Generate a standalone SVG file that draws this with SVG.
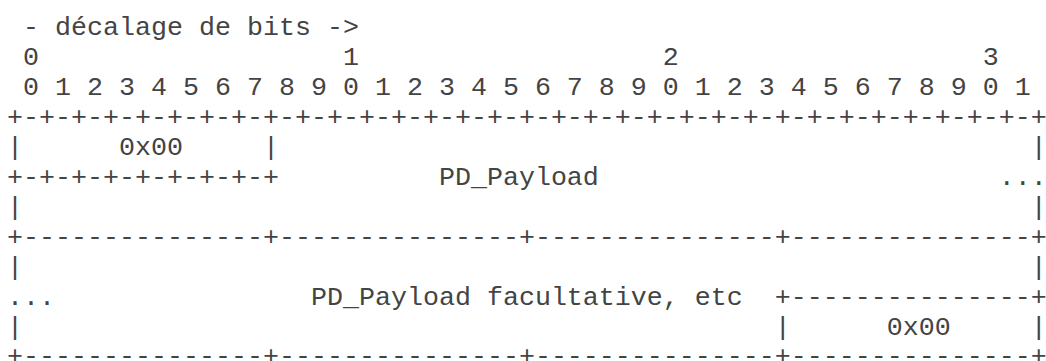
<svg xmlns="http://www.w3.org/2000/svg" width="1046" height="361" viewBox="0 0 1046 361">
  <style>
    /* monospaced grid: 16px per column, 30px per row */
    text.row {
      font-family: "Liberation Mono", "DejaVu Sans Mono", monospace;
      font-size: 26.667px;
      fill: #444444;
      white-space: pre;
    }
  </style>
  <rect width="1046" height="361" fill="#ffffff"/>

  <!-- bit offset ruler -->
  <g id="bit-ruler">
    <text class="row" x="7" y="35" xml:space="preserve"> - décalage de bits -&gt;</text>
    <text class="row" x="7" y="65" xml:space="preserve"> 0                   1                   2                   3</text>
    <text class="row" x="7" y="95" xml:space="preserve"> 0 1 2 3 4 5 6 7 8 9 0 1 2 3 4 5 6 7 8 9 0 1 2 3 4 5 6 7 8 9 0 1</text>
  </g>

  <!-- first 32-bit word: 0x00 tag followed by PD_Payload -->
  <g id="word-1">
    <text class="row" x="7" y="125" xml:space="preserve">+-+-+-+-+-+-+-+-+-+-+-+-+-+-+-+-+-+-+-+-+-+-+-+-+-+-+-+-+-+-+-+-+</text>
    <text class="row" x="7" y="155" xml:space="preserve">|      0x00     |                                               |</text>
    <text class="row" x="7" y="185" xml:space="preserve">+-+-+-+-+-+-+-+-+          PD_Payload                         ...</text>
    <text class="row" x="7" y="215" xml:space="preserve">|                                                               |</text>
  </g>

  <!-- second 32-bit word: optional PD_Payload, closing 0x00 -->
  <g id="word-2">
    <text class="row" x="7" y="245" xml:space="preserve">+---------------+---------------+---------------+---------------+</text>
    <text class="row" x="7" y="275" xml:space="preserve">|                                                               |</text>
    <text class="row" x="7" y="305" xml:space="preserve">...                PD_Payload facultative, etc  +---------------+</text>
    <text class="row" x="7" y="335" xml:space="preserve">|                                               |      0x00     |</text>
    <text class="row" x="7" y="364" xml:space="preserve">+---------------+---------------+---------------+---------------+</text>
  </g>
</svg>
